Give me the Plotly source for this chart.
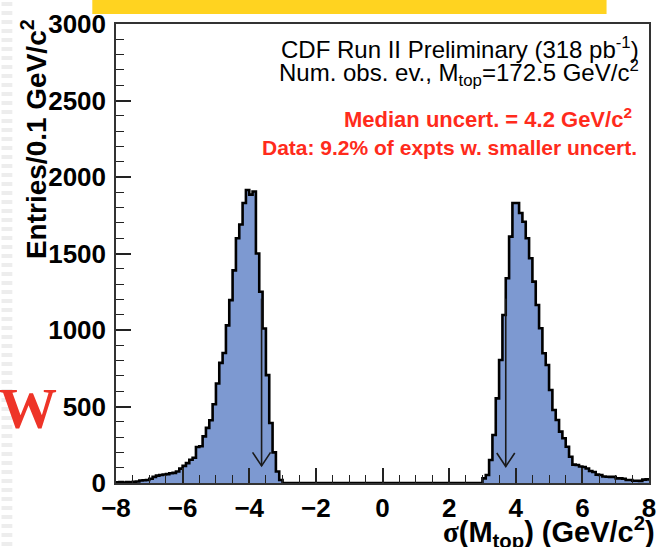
import plotly.graph_objects as go

# ---------------- data ----------------
x_min, x_max, bin_width = -8.0, 8.0, 0.1
n_bins = 160
bin_low = [round(x_min + i * bin_width, 1) for i in range(n_bins)]

counts_neg = [4, 6, 3, 7, 5, 8, 10, 16, 18, 20,
              28, 40, 48, 52, 56, 58, 64, 66, 75, 94,
              112, 130, 152, 165, 235, 240, 305, 360, 410, 515,
              650, 785, 850, 1030, 1195, 1390, 1600, 1690, 1830, 1915,
              1885, 1905, 1500, 1250, 1010, 705, 392, 200, 75, 20]
counts_mid = [0] * 60
counts_pos = [30, 52, 150, 314, 553, 804, 1098, 1338, 1610, 1830,
              1830, 1765, 1708, 1600, 1469, 1316, 1163, 1011, 848, 771,
              608, 477, 412, 336, 292, 237, 172, 120, 118, 108,
              105, 95, 78, 72, 55, 52, 42, 41, 40, 40,
              30, 30, 28, 20, 20, 15, 15, 14, 22, 24]
counts = counts_neg + counts_mid + counts_pos

arrow_x = [-3.63, 3.70]
arrow_top = [1205, 1205]
arrow_tip = [112, 108]

x_ticks = [-8, -6, -4, -2, 0, 2, 4, 6, 8]
y_ticks = [0, 500, 1000, 1500, 2000, 2500, 3000]

# ---------------- figure ----------------
W, H = 665, 547
L, R, T, B = 116, 656, 24, 483


def px(x):
    return (x - L) / (R - L)


def py(y):
    return (B - y) / (B - T)


fig = go.Figure()

fig.add_trace(go.Scatter(
    x=bin_low + [x_max], y=counts + [counts[-1]],
    mode="lines", line=dict(shape="hv", color="black", width=2.6),
    fill="tozeroy", fillcolor="#7D99D1", hoverinfo="skip", showlegend=False))

ax, ay = [], []
for xa, yt, yb in zip(arrow_x, arrow_top, arrow_tip):
    ax += [xa, xa, None, xa - 0.27, xa, xa + 0.27, None]
    ay += [yt, yb, None, yb + 88, yb, yb + 88, None]
fig.add_trace(go.Scatter(x=ax, y=ay, mode="lines",
                         line=dict(color="#1a1a1a", width=1.6),
                         hoverinfo="skip", showlegend=False))

tickfont = dict(family="Liberation Sans", size=26, color="black", weight="bold")
axis_common = dict(ticks="inside", tickcolor="#222", tickwidth=1.5,
                   showline=True, linecolor="#333", linewidth=1.5, mirror=True,
                   showgrid=False, zeroline=False, tickfont=tickfont)

fig.update_xaxes(range=[x_min, x_max], tickvals=x_ticks, ticklen=15,
                 minor=dict(dtick=0.5, tick0=-8, ticks="inside", ticklen=8,
                            tickcolor="#222", tickwidth=1.3),
                 ticklabelstandoff=1, **axis_common)
fig.update_yaxes(range=[0, 3000], tickvals=y_ticks, ticklen=15,
                 minor=dict(dtick=100, tick0=0, ticks="inside", ticklen=8,
                            tickcolor="#222", tickwidth=1.3),
                 ticklabelstandoff=3, **axis_common)

shapes = []
# slide background stripes on the left edge
for ys in range(2, H, 9):
    shapes.append(dict(type="rect", xref="paper", yref="paper",
                       x0=px(0), x1=px(11), y0=py(ys + 4), y1=py(ys),
                       fillcolor="#EDEDED", line=dict(width=0), layer="below"))
# yellow title bar
shapes.append(dict(type="rect", xref="paper", yref="paper",
                   x0=px(92), x1=px(613), y0=py(14), y1=py(0),
                   fillcolor="#FFD320", line=dict(width=0)))

ann = []
ann.append(dict(text="<b>Entries/0.1 GeV/c<sup>2</sup></b>", textangle=-90,
                x=px(33), y=py(17), xanchor="center", yanchor="top",
                font=dict(family="Liberation Sans", size=28, color="black")))
ann.append(dict(text="<b><span style='font-family:Liberation Serif'>σ</span>(M<sub>top</sub>) (GeV/c<sup>2</sup>)</b>",
                x=px(664), y=py(532), xanchor="right", yanchor="middle",
                font=dict(family="Liberation Sans", size=29, color="black")))
ann.append(dict(text="CDF Run II Preliminary (318 pb<sup>-1</sup>)",
                x=px(648), y=py(48), xanchor="right", yanchor="middle",
                font=dict(family="Liberation Sans", size=24, color="black")))
ann.append(dict(text="Num. obs. ev., M<sub>top</sub>=172.5 GeV/c<sup>2</sup>",
                x=px(648), y=py(73), xanchor="right", yanchor="middle",
                font=dict(family="Liberation Sans", size=24, color="black")))
ann.append(dict(text="<b>Median uncert. = 4.2 GeV/c<sup>2</sup></b>",
                x=px(641), y=py(118), xanchor="right", yanchor="middle",
                font=dict(family="Liberation Sans", size=22, color="#FF2B1C")))
ann.append(dict(text="<b>Data: 9.2% of expts w. smaller uncert.</b>",
                x=px(646), y=py(147), xanchor="right", yanchor="middle",
                font=dict(family="Liberation Sans", size=21, color="#FF2B1C")))
ann.append(dict(text="<b>W</b>", x=px(27), y=py(408), xanchor="center", yanchor="middle",
                font=dict(family="Liberation Serif", size=58, color="#EE3428")))
for a in ann:
    a.update(xref="paper", yref="paper", showarrow=False)

fig.update_layout(width=W, height=H, autosize=False,
                  margin=dict(l=L, r=W - R, t=T, b=H - B, pad=0),
                  paper_bgcolor="white", plot_bgcolor="white",
                  shapes=shapes, annotations=ann, showlegend=False)

fig.write_html("out.html")
